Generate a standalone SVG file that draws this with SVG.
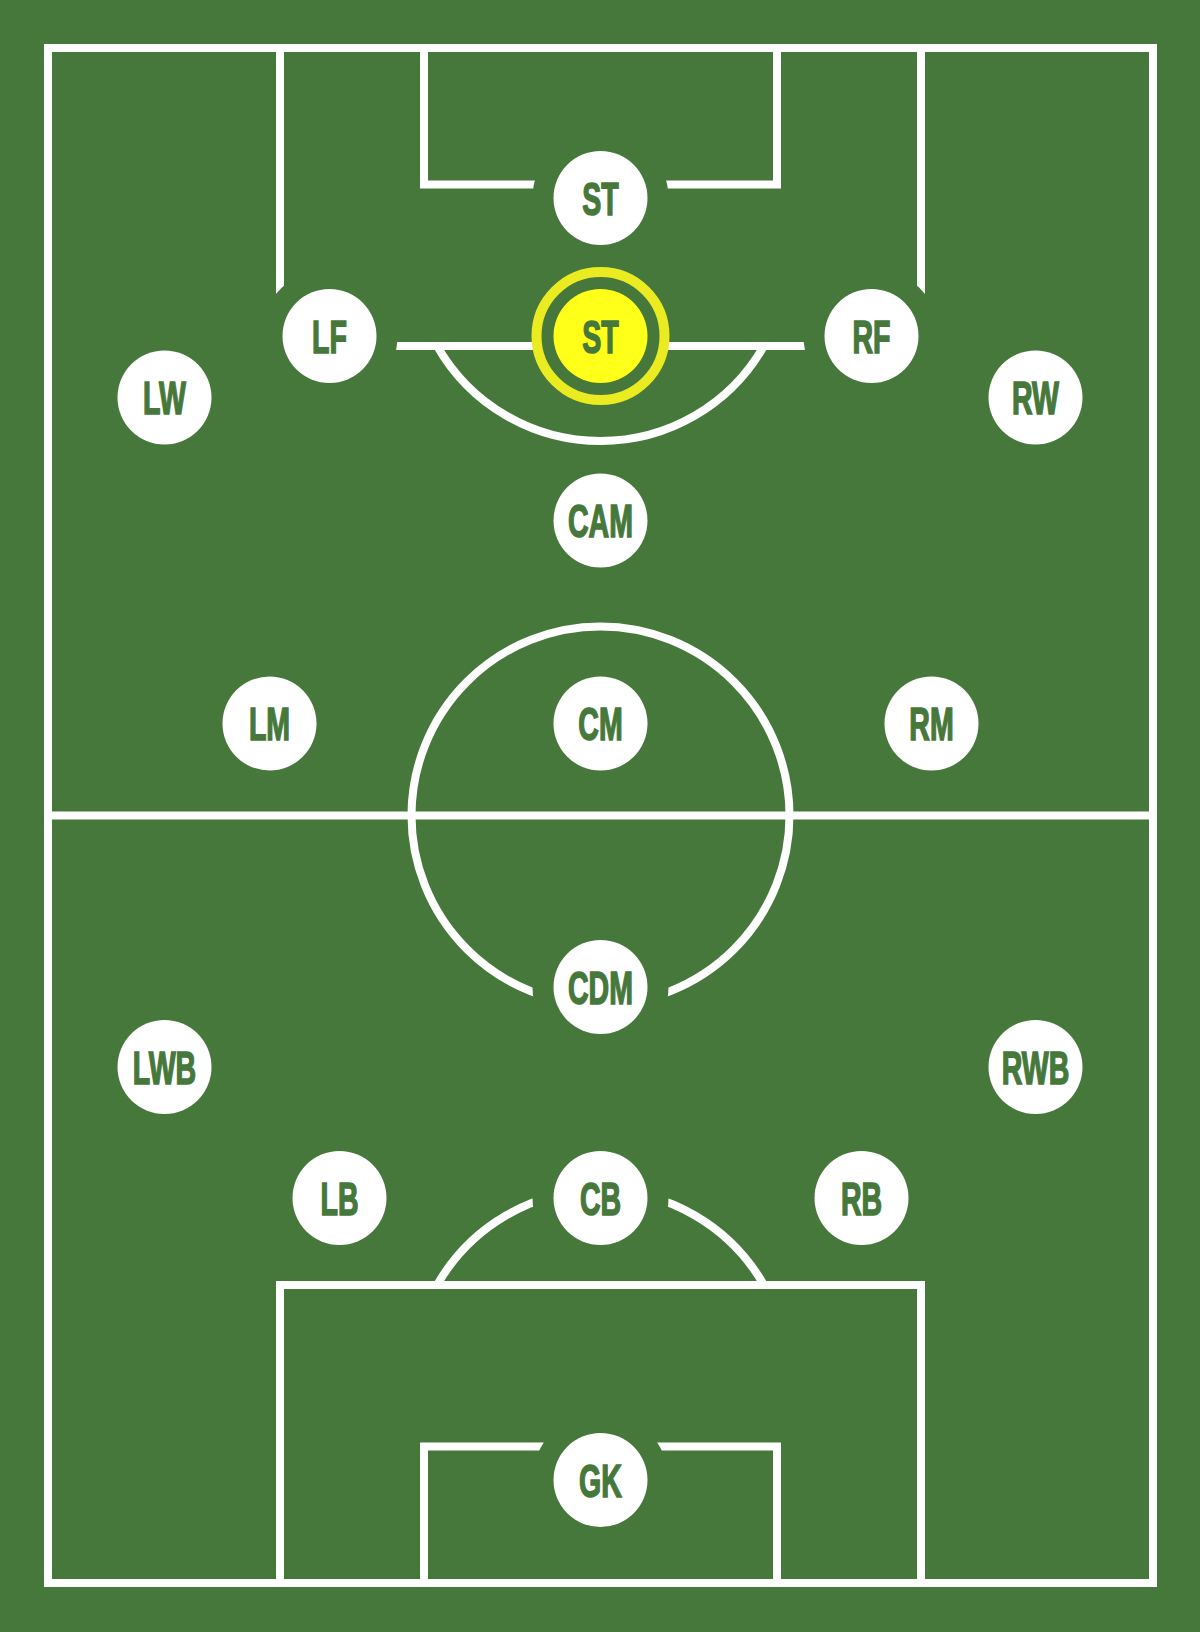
<svg xmlns="http://www.w3.org/2000/svg" width="1200" height="1632" viewBox="0 0 1200 1632">
<defs>
<style>
.bg{fill:#47783b}
.ln{fill:none;stroke:#ffffff;stroke-width:8;stroke-linejoin:miter}
.mask{fill:#47783b}
.dot{fill:#ffffff}
.lbl{font-family:"Liberation Sans",Arial,sans-serif;font-weight:bold;font-size:46px;fill:#47783b;stroke:#47783b;stroke-width:1.6;text-anchor:middle}
.hl{fill:#ffff1a}
.ring{fill:#47783b;stroke:#ebeb22;stroke-width:10}
</style>
</defs>
<rect class="bg" x="0" y="0" width="1200" height="1632"/>
<g id="pitch">
<rect class="ln" x="48" y="48" width="1105" height="1535"/>
<line class="ln" x1="48" y1="815.5" x2="1153" y2="815.5"/>
<circle class="ln" cx="600.5" cy="815.5" r="189"/>
<path class="ln" d="M280,48 V346 H921 V48"/>
<path class="ln" d="M424,48 V184.5 H777 V48"/>
<path class="ln" d="M437.1,346 A188,188 0 0 0 763.9,346"/>
<path class="ln" d="M280,1583 V1285 H921 V1583"/>
<path class="ln" d="M424,1583 V1446.5 H777 V1583"/>
<path class="ln" d="M437.1,1285 A188,188 0 0 1 763.9,1285"/>
</g>
<g id="node-st-top" transform="translate(600.5,198)"><circle class="mask" r="68"/><circle class="dot" r="47"/><text class="lbl" transform="scale(0.62,1)" y="16.5">ST</text></g>
<g id="node-st" transform="translate(600.5,336)"><circle class="ring" r="64"/><circle class="hl" r="47"/><text class="lbl" transform="scale(0.62,1)" y="16.5">ST</text></g>
<g id="node-lf" transform="translate(329.5,336)"><circle class="mask" r="68"/><circle class="dot" r="47"/><text class="lbl" transform="scale(0.62,1)" y="16.5">LF</text></g>
<g id="node-rf" transform="translate(871.5,336)"><circle class="mask" r="68"/><circle class="dot" r="47"/><text class="lbl" transform="scale(0.62,1)" y="16.5">RF</text></g>
<g id="node-lw" transform="translate(164.5,397.5)"><circle class="mask" r="68"/><circle class="dot" r="47"/><text class="lbl" transform="scale(0.62,1)" y="16.5">LW</text></g>
<g id="node-rw" transform="translate(1035.5,397.5)"><circle class="mask" r="68"/><circle class="dot" r="47"/><text class="lbl" transform="scale(0.62,1)" y="16.5">RW</text></g>
<g id="node-cam" transform="translate(600.5,520.5)"><circle class="mask" r="68"/><circle class="dot" r="47"/><text class="lbl" transform="scale(0.62,1)" y="16.5">CAM</text></g>
<g id="node-lm" transform="translate(269.5,723.5)"><circle class="mask" r="68"/><circle class="dot" r="47"/><text class="lbl" transform="scale(0.62,1)" y="16.5">LM</text></g>
<g id="node-cm" transform="translate(600.5,723.5)"><circle class="dot" r="47"/><text class="lbl" transform="scale(0.62,1)" y="16.5">CM</text></g>
<g id="node-rm" transform="translate(931.5,723.5)"><circle class="mask" r="68"/><circle class="dot" r="47"/><text class="lbl" transform="scale(0.62,1)" y="16.5">RM</text></g>
<g id="node-cdm" transform="translate(600.5,987)"><circle class="mask" r="68"/><circle class="dot" r="47"/><text class="lbl" transform="scale(0.62,1)" y="16.5">CDM</text></g>
<g id="node-lwb" transform="translate(164.5,1067)"><circle class="mask" r="68"/><circle class="dot" r="47"/><text class="lbl" transform="scale(0.62,1)" y="16.5">LWB</text></g>
<g id="node-rwb" transform="translate(1035.5,1067)"><circle class="mask" r="68"/><circle class="dot" r="47"/><text class="lbl" transform="scale(0.62,1)" y="16.5">RWB</text></g>
<g id="node-lb" transform="translate(339.5,1198)"><circle class="mask" r="68"/><circle class="dot" r="47"/><text class="lbl" transform="scale(0.62,1)" y="16.5">LB</text></g>
<g id="node-cb" transform="translate(600.5,1198)"><circle class="mask" r="68"/><circle class="dot" r="47"/><text class="lbl" transform="scale(0.62,1)" y="16.5">CB</text></g>
<g id="node-rb" transform="translate(861.5,1198)"><circle class="mask" r="68"/><circle class="dot" r="47"/><text class="lbl" transform="scale(0.62,1)" y="16.5">RB</text></g>
<g id="node-gk" transform="translate(600.5,1480)"><circle class="mask" r="68"/><circle class="dot" r="47"/><text class="lbl" transform="scale(0.62,1)" y="16.5">GK</text></g>
</svg>
